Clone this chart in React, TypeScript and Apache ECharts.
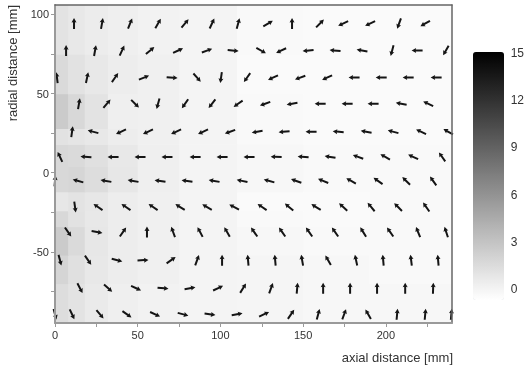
import React, { useEffect, useRef } from 'react';
import * as echarts from 'echarts';

// ---- vector field (arrow centres in mm, direction in degrees CCW from +x) ----
const rowY = [94.3, 77.2, 60.1, 43.6, 25.9, 10.0, -5.2, -21.7, -37.5, -55.3, -73.0, -89.5];

const rowX = [
  [11.5, 28.4, 45.4, 62.3, 78.6, 94.9, 110.7, 128.8, 143.3, 160.2, 174.2, 190.5, 208.0, 223.8],
  [6.7, 24.2, 40.5, 57.5, 74.4, 91.9, 107.7, 124.6, 136.7, 153.0, 169.3, 185.6, 203.8, 218.9, 236.3],
  [1.2, 19.4, 36.3, 53.8, 70.8, 85.9, 100.4, 116.1, 131.8, 148.2, 164.5, 180.8, 197.2, 213.5, 230.4],
  [14.5, 31.4, 48.4, 62.3, 78.6, 94.9, 110.7, 127.0, 143.3, 160.3, 176.6, 192.3, 209.3, 225.6],
  [10.3, 23.0, 39.9, 56.2, 73.2, 89.5, 105.8, 122.2, 138.5, 154.8, 171.2, 188.1, 204.4, 221.3, 237.7],
  [3.0, 18.7, 35.1, 51.4, 67.7, 84.7, 101.0, 117.3, 133.7, 150.0, 166.3, 183.2, 199.6, 216.5, 234.0],
  [0.0, 13.9, 30.8, 47.2, 63.5, 79.8, 96.2, 113.1, 129.4, 145.8, 162.1, 179.0, 195.3, 212.3, 228.6],
  [12.1, 26.0, 42.9, 59.3, 75.6, 91.9, 108.3, 125.2, 141.5, 157.8, 174.2, 191.1, 207.4, 224.4],
  [7.9, 25.4, 41.1, 55.6, 71.4, 87.7, 104.0, 120.4, 137.3, 153.6, 169.3, 186.3, 202.6, 219.5, 236.5],
  [3.0, 20.0, 37.5, 53.2, 70.2, 85.9, 101.0, 116.7, 133.1, 149.4, 165.1, 182.0, 198.4, 215.3, 231.6],
  [15.1, 32.1, 49.0, 65.3, 81.6, 98.6, 113.7, 130.6, 146.4, 162.1, 178.4, 194.7, 211.7, 228.6],
  [0.0, 10.3, 27.2, 43.5, 60.5, 77.4, 93.7, 110.1, 126.4, 142.7, 159.1, 174.8, 189.3, 206.8, 223.8, 239.6],
];

const rowAngle = [
  [90, 80, 68, 60, 50, 65, 75, 30, 90, 45, 205, 205, 250, 210],
  [90, 80, 65, 40, 25, 20, -5, -30, 205, 185, 175, 170, 255, 180, 240],
  [97, 78, 55, 22, -5, -48, 262, 235, 205, 200, 205, 180, 180, 180, 180],
  [80, 50, -45, 255, 235, 232, 215, 200, 190, 180, 180, 180, 170, 155],
  [82, 165, 205, 205, 205, 205, 200, 190, 185, 180, 175, 170, 165, 155, 150],
  [115, 175, 180, 180, 180, 180, 180, 180, 178, 175, 170, 160, 150, 155, 125],
  [85, 165, 170, 170, 172, 172, 170, 168, 165, 160, 158, 150, 145, 135, 125],
  [278, 145, 145, 145, 148, 150, 152, 145, 140, 148, 138, 130, 135, 125],
  [-55, -10, 55, 90, 110, 118, 120, 125, 125, 125, 125, 122, 125, 112, 108],
  [285, -55, -15, 3, 35, 70, 90, 95, 95, 100, 120, 102, 95, 97, 95],
  [-62, -42, -25, -5, 10, 25, 58, 70, 85, 90, 90, 90, 90, 88],
  [-75, -65, -50, -35, -25, -15, -8, 10, 25, 55, 75, 70, 120, 85, 85, 85],
];

// ---- background magnitude field ----
const cellXEdges = [0, 8, 18, 32, 50, 75, 110, 150, 190, 240];
const cellYEdges = [-95, -70, -52, -34, -24, -12, 4, 18, 28, 50, 75, 106];
const cellValues = [
  [1.4, 1.0, 0.6, 0.3, 0.1, 0.0, -0.1, -0.2, -0.2],
  [1.9, 1.2, 0.7, 0.4, 0.2, 0.0, -0.1, -0.2, -0.3],
  [2.5, 1.6, 0.8, 0.4, 0.2, 0.0, -0.2, -0.3, -0.3],
  [1.7, 1.1, 0.7, 0.4, 0.2, 0.0, -0.3, -0.4, -0.3],
  [0.8, 1.0, 0.8, 0.4, 0.2, 0.0, -0.4, -0.4, -0.3],
  [1.7, 1.8, 1.4, 0.8, 0.3, 0.0, -0.2, -0.3, -0.3],
  [1.7, 1.6, 1.2, 0.7, 0.3, 0.0, -0.2, -0.3, -0.3],
  [1.1, 0.9, 0.7, 0.4, 0.2, 0.0, -0.3, -0.4, -0.4],
  [2.5, 1.7, 1.0, 0.3, 0.2, 0.0, -0.3, -0.4, -0.4],
  [1.6, 1.1, 0.7, 0.4, 0.2, 0.0, -0.4, -0.4, -0.4],
  [1.0, 0.7, 0.5, 0.3, 0.1, 0.0, -0.3, -0.4, -0.4],
];

const colorMin = -0.7;
const colorMax = 15;

// ---- tick positions / labels ----
const xTicks = [0, 25, 50, 75, 100, 125, 150, 175, 200, 225];
const xLabels = [0, 50, 100, 150, 200];
const yTicks = [-75, -50, -25, 0, 25, 50, 75, 100];
const yLabels = [-50, 0, 50, 100];
const barLabels = [0, 3, 6, 9, 12, 15];

const FONT = "'Liberation Sans', Arial, Helvetica, sans-serif";
const ARROW = 'path://M5,0L10,10L7,9L7,24L3,24L3,9L0,10Z';

export default function App() {
  const ref = useRef<HTMLDivElement>(null);

  useEffect(() => {
    if (!ref.current) return;
    const chart = echarts.init(ref.current, null, { renderer: 'svg' });

    const cells: number[][] = [];
    for (let r = 0; r < cellValues.length; r++) {
      for (let c = 0; c < cellValues[r].length; c++) {
        cells.push([cellXEdges[c], cellXEdges[c + 1], cellYEdges[r], cellYEdges[r + 1], cellValues[r][c]]);
      }
    }
    const arrows: number[][] = [];
    rowY.forEach((y, r) => {
      rowX[r].forEach((x, c) => arrows.push([x, y, rowAngle[r][c]]));
    });

    const option: any = {
      animation: false,
      grid: [
        { left: 55, top: 5, width: 397, height: 318 },
        { left: 473, top: 53, width: 31, height: 236 },
      ],
      xAxis: [
        {
          type: 'value', gridIndex: 0, position: 'bottom', min: 0, max: 240,
          minInterval: 25, maxInterval: 25, z: 10,
          axisLine: { show: true, onZero: false, lineStyle: { color: '#9a9a9a', width: 2 } },
          axisTick: { show: true, inside: false, length: 4, customValues: xTicks, lineStyle: { color: '#9a9a9a' } },
          axisLabel: { margin: 6, fontSize: 11, color: '#333', fontFamily: FONT, customValues: xLabels },
          splitLine: { show: false },
        },
        {
          type: 'value', gridIndex: 0, position: 'top', min: 0, max: 240, z: 10,
          axisLine: { show: true, onZero: false, lineStyle: { color: '#666', width: 1.5 } },
          axisTick: { show: false }, axisLabel: { show: false }, splitLine: { show: false },
        },
        { type: 'value', gridIndex: 1, min: 0, max: 1, show: false },
      ],
      yAxis: [
        {
          type: 'value', gridIndex: 0, position: 'left', min: -95, max: 106,
          minInterval: 25, maxInterval: 25, z: 10,
          axisLine: { show: true, onZero: false, lineStyle: { color: '#9a9a9a', width: 2 } },
          axisTick: { show: true, inside: false, length: 4, customValues: yTicks, lineStyle: { color: '#9a9a9a' } },
          axisLabel: { margin: 6, fontSize: 11, color: '#333', fontFamily: FONT, customValues: yLabels },
          splitLine: { show: false },
        },
        {
          type: 'value', gridIndex: 0, position: 'right', min: -95, max: 106, z: 10,
          axisLine: { show: true, onZero: false, lineStyle: { color: '#666', width: 1.5 } },
          axisTick: { show: false }, axisLabel: { show: false }, splitLine: { show: false },
        },
        {
          type: 'value', gridIndex: 1, position: 'right', min: 0, max: 15, interval: 3,
          axisLine: { show: false }, axisTick: { show: false }, splitLine: { show: false },
          axisLabel: { margin: 8, fontSize: 12, color: '#333', fontFamily: FONT, customValues: barLabels },
        },
      ],
      visualMap: {
        type: 'continuous',
        seriesIndex: 0,
        dimension: 4,
        min: colorMin,
        max: colorMax,
        calculable: false,
        hoverLink: false,
        inRange: { color: ['#ffffff', '#000000'] },
        left: 473,
        top: 52,
        padding: 0,
        itemWidth: 31,
        itemHeight: 248,
      },
      series: [
        {
          type: 'custom',
          xAxisIndex: 0,
          yAxisIndex: 0,
          clip: true,
          z: 1,
          encode: { x: [0, 1], y: [2, 3] },
          data: cells,
          renderItem: (params: any, api: any) => {
            const a = api.coord([api.value(0), api.value(3)]);
            const b = api.coord([api.value(1), api.value(2)]);
            return {
              type: 'rect',
              shape: { x: a[0], y: a[1], width: b[0] - a[0] + 0.6, height: b[1] - a[1] + 0.6 },
              style: { fill: api.visual('color') },
            };
          },
        },
        {
          type: 'scatter',
          xAxisIndex: 0,
          yAxisIndex: 0,
          clip: false,
          z: 3,
          symbol: ARROW,
          symbolSize: [5, 11],
          symbolRotate: (val: number[]) => val[2] - 90,
          itemStyle: { color: '#151515', opacity: 1 },
          data: arrows,
        },
      ],
      graphic: [
        {
          type: 'text', x: 453, y: 357,
          style: { text: 'axial distance [mm]', fontSize: 13, fontFamily: FONT, fill: '#333', align: 'right', verticalAlign: 'middle' },
        },
        {
          type: 'text', x: 12.5, y: 5, rotation: Math.PI / 2,
          style: { text: 'radial distance [mm]', fontSize: 13, fontFamily: FONT, fill: '#333', align: 'right', verticalAlign: 'middle' },
        },
      ],
    };

    chart.setOption(option);
    return () => chart.dispose();
  }, []);

  return <div ref={ref} style={{ position: 'fixed', left: 0, top: 0, width: 527, height: 368 }} />;
}
